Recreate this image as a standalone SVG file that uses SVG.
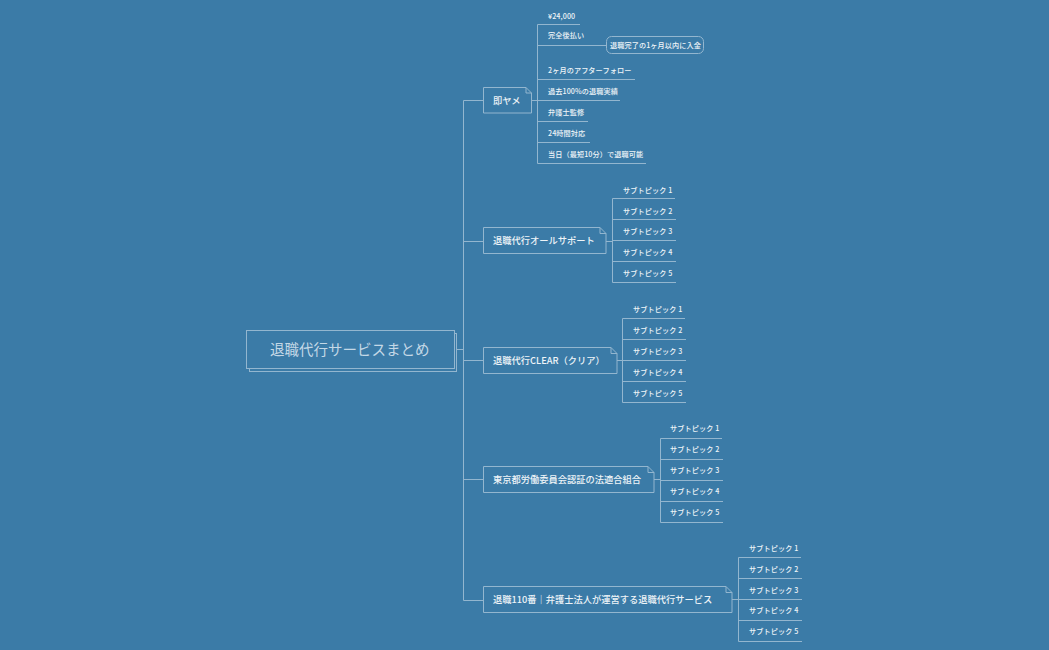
<svg xmlns="http://www.w3.org/2000/svg" width="1049" height="650" viewBox="0 0 1049 650">
<style>
text{font-family:"Noto Sans CJK JP","Noto Sans",sans-serif;dominant-baseline:central}
.l{fill:none;stroke:#93b6cf;stroke-width:1}
.b{fill:#3b7ba7;stroke:#93b6cf;stroke-width:1}
.m{font-size:9.25px;fill:#eef4f8;font-weight:500}
.s{font-size:7.15px;fill:#eef4f8;font-weight:500;letter-spacing:.1px}
.r{font-size:14.5px;fill:#c4d8e6}
</style>
<rect width="1049" height="650" fill="#3b7ba7"/>
<g id="connectors" class="l">
<path d="M454.500 349.500H463.500M463.500 100.500V600.500M463.500 100.500H483.500M463.500 241.500H483.500M463.500 360.500H483.500M463.500 479.500H483.500M463.500 600.500H483.500"/>
<path d="M531.500 100.500H537.500M537.500 24.500V163.500M537.500 24.500H580M537.500 45.500H606.500M537.500 79.500H635M537.500 100.500H620M537.500 121.500H588M537.500 142.500H590M537.500 163.500H646"/>
<path d="M606 241.500H612.500M612.500 198.500V282.500M612.500 198.500H675M612.500 219.500H676M612.500 240.500H676M612.500 261.500H676M612.500 282.500H676"/>
<path d="M617 360.500H622.500M622.500 318.500V402.500M622.500 318.500H685M622.500 339.500H686M622.500 360.500H686M622.500 381.500H686M622.500 402.500H686"/>
<path d="M654 479.500H660.500M660.500 438.500V522.500M660.500 438.500H722M660.500 459.500H723M660.500 480.500H723M660.500 501.500H723M660.500 522.500H723"/>
<path d="M732 599.500H738.500M738.500 557.500V641.500M738.500 557.500H801M738.500 578.500H802M738.500 599.500H802M738.500 620.500H802M738.500 641.500H802"/>
</g>
<g id="root">
<rect class="b" x="249.500" y="333.500" width="207" height="38"/>
<rect class="b" x="246.500" y="330.500" width="208" height="38"/>
<text class="r" x="270" y="348.500">退職代行サービスまとめ</text>
</g>
<g id="n1">
<path class="b" d="M483.500 87.500H526L531.500 93V113H483.500Z"/><path class="l" d="M526 87.500V93H531.500"/>
<text class="m" x="493" y="99.500">即ヤメ</text>
</g>
<g id="n1-1"><text class="s" x="548" y="15.500">¥24,000</text></g>
<g id="n1-2"><text class="s" x="548" y="35">完全後払い</text></g>
<g id="n1-2-1"><rect class="b" x="606.500" y="36.500" width="97" height="17" rx="5"/><text class="s" x="610" y="44.500">退職完了の1ヶ月以内に入金</text></g>
<g id="n1-3"><text class="s" x="548" y="70">2ヶ月のアフターフォロー</text></g>
<g id="n1-4"><text class="s" x="548" y="90.500">過去100%の退職実績</text></g>
<g id="n1-5"><text class="s" x="548" y="111.500">弁護士監修</text></g>
<g id="n1-6"><text class="s" x="548" y="132.500">24時間対応</text></g>
<g id="n1-7"><text class="s" x="548" y="153.500">当日（最短10分）で退職可能</text></g>
<g id="n2">
<path class="b" d="M483.500 227.500H600L606 233.500V253.500H483.500Z"/><path class="l" d="M600 227.500V233.500H606"/>
<text class="m" x="493" y="240">退職代行オールサポート</text>
</g>
<g id="n2-kids">
<text class="s" x="623" y="189.500">サブトピック 1</text><text class="s" x="623" y="210.500">サブトピック 2</text><text class="s" x="623" y="230.500">サブトピック 3</text><text class="s" x="623" y="251.500">サブトピック 4</text><text class="s" x="623" y="272.500">サブトピック 5</text>
</g>
<g id="n3">
<path class="b" d="M483.500 347.500H611L617 353.500V373.500H483.500Z"/><path class="l" d="M611 347.500V353.500H617"/>
<text class="m" x="493" y="359.500">退職代行CLEAR（クリア）</text>
</g>
<g id="n3-kids">
<text class="s" x="633" y="308.500">サブトピック 1</text><text class="s" x="633" y="329.500">サブトピック 2</text><text class="s" x="633" y="350.500">サブトピック 3</text><text class="s" x="633" y="371.500">サブトピック 4</text><text class="s" x="633" y="392.500">サブトピック 5</text>
</g>
<g id="n4">
<path class="b" d="M483.500 466.500H648L654 472.500V492.500H483.500Z"/><path class="l" d="M648 466.500V472.500H654"/>
<text class="m" x="493" y="479">東京都労働委員会認証の法適合組合</text>
</g>
<g id="n4-kids">
<text class="s" x="670" y="427.500">サブトピック 1</text><text class="s" x="670" y="448.500">サブトピック 2</text><text class="s" x="670" y="469.500">サブトピック 3</text><text class="s" x="670" y="490.500">サブトピック 4</text><text class="s" x="670" y="511.500">サブトピック 5</text>
</g>
<g id="n5">
<path class="b" d="M483.500 586.500H726L732 592.500V612.500H483.500Z"/><path class="l" d="M726 586.500V592.500H732"/>
<text class="m" x="493" y="599">退職110番｜弁護士法人が運営する退職代行サービス</text>
</g>
<g id="n5-kids">
<text class="s" x="749" y="547.500">サブトピック 1</text><text class="s" x="749" y="568.500">サブトピック 2</text><text class="s" x="749" y="589.500">サブトピック 3</text><text class="s" x="749" y="609.500">サブトピック 4</text><text class="s" x="749" y="630.500">サブトピック 5</text>
</g>
</svg>
